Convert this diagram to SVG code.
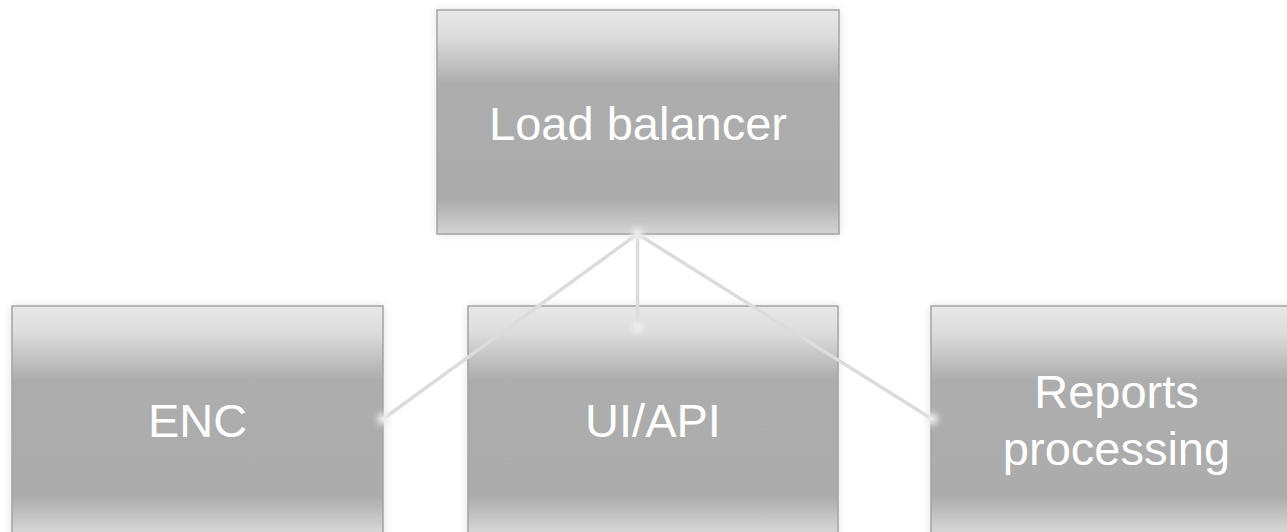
<svg xmlns="http://www.w3.org/2000/svg" width="1287" height="532" viewBox="0 0 1287 532">
  <defs>
    <linearGradient id="boxFill" x1="0" y1="0" x2="0" y2="1">
      <stop offset="0" stop-color="#e8e8e8"/>
      <stop offset="0.12" stop-color="#dcdcdc"/>
      <stop offset="0.33" stop-color="#adadad"/>
      <stop offset="0.85" stop-color="#acacac"/>
      <stop offset="1" stop-color="#d4d4d4"/>
    </linearGradient>
    <linearGradient id="boxFillTall" gradientUnits="userSpaceOnUse" x1="0" y1="306" x2="0" y2="530">
      <stop offset="0" stop-color="#e8e8e8"/>
      <stop offset="0.12" stop-color="#dcdcdc"/>
      <stop offset="0.33" stop-color="#adadad"/>
      <stop offset="0.85" stop-color="#acacac"/>
      <stop offset="1" stop-color="#d4d4d4"/>
    </linearGradient>
    <filter id="softShadow" x="-10%" y="-10%" width="120%" height="120%">
      <feGaussianBlur in="SourceAlpha" stdDeviation="5"/>
      <feComponentTransfer><feFuncA type="linear" slope="0.12"/></feComponentTransfer>
      <feMerge><feMergeNode/><feMergeNode in="SourceGraphic"/></feMerge>
    </filter>
    <filter id="glow" x="-50%" y="-50%" width="200%" height="200%">
      <feGaussianBlur stdDeviation="3"/>
    </filter>
  </defs>
  <style>
    .box { stroke: #a3a3a3; stroke-width: 1.5; filter: url(#softShadow); }
    .label { font-family: "Liberation Sans", Arial, sans-serif; font-size: 47px; fill: #ffffff; text-anchor: middle; }
    .link { stroke: #dcdcdc; stroke-width: 3.5; fill: none; stroke-linecap: round; }
    .dot { fill: #eeeeee; filter: url(#glow); }
  </style>

  <g id="node-load-balancer">
    <rect class="box" x="437" y="10" width="402" height="224" fill="url(#boxFill)"/>
    <text class="label" x="638" y="140">Load balancer</text>
  </g>

  <g id="node-enc">
    <rect class="box" x="12" y="306" width="371" height="240" fill="url(#boxFillTall)"/>
    <text class="label" x="197.5" y="437">ENC</text>
  </g>

  <g id="node-ui-api">
    <rect class="box" x="468" y="306" width="370" height="240" fill="url(#boxFillTall)"/>
    <text class="label" x="653" y="437">UI/API</text>
  </g>

  <g id="node-reports">
    <rect class="box" x="931" y="306" width="371" height="240" fill="url(#boxFillTall)"/>
    <text class="label" x="1116.5" y="408">Reports</text>
    <text class="label" x="1116.5" y="465">processing</text>
  </g>

  <g id="connectors">
    <line class="link" x1="637.5" y1="234" x2="383" y2="419"/>
    <line class="link" x1="637.5" y1="234" x2="637.5" y2="327"/>
    <line class="link" x1="637.5" y1="234" x2="932" y2="419"/>
    <circle class="dot" cx="637.5" cy="234" r="6"/>
    <circle class="dot" cx="383" cy="419" r="6"/>
    <circle class="dot" cx="637.5" cy="327" r="6"/>
    <circle class="dot" cx="932" cy="419" r="6"/>
  </g>
</svg>
